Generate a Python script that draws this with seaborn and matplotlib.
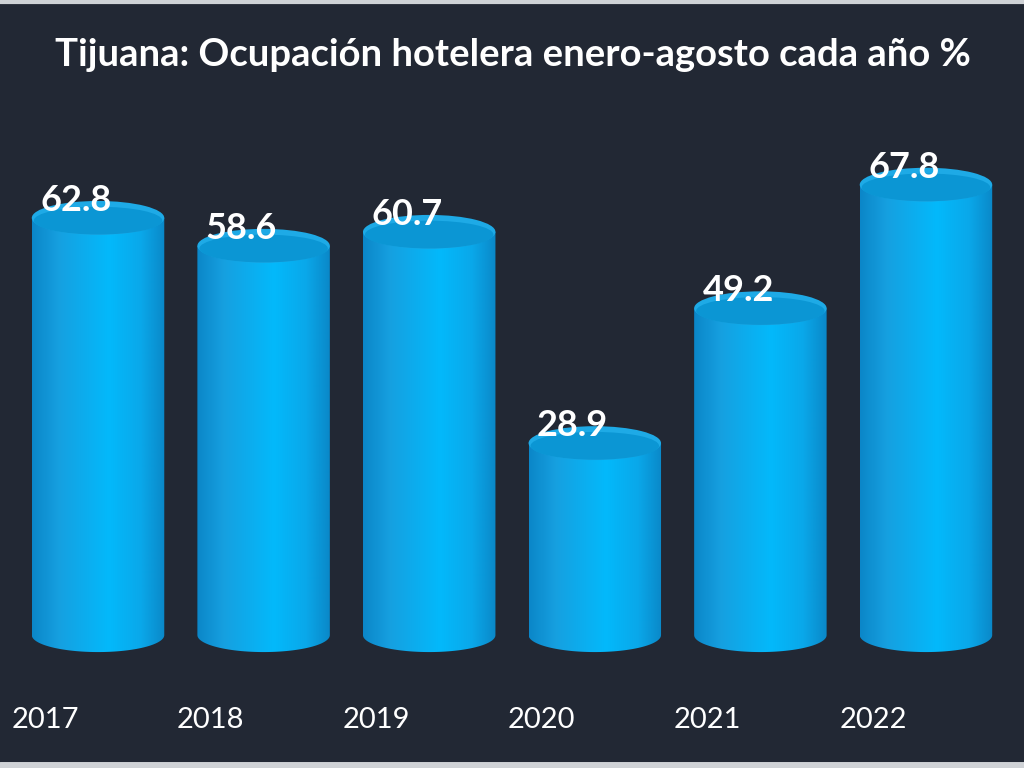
import numpy as np
import pandas as pd
import seaborn as sns
import matplotlib.pyplot as plt
from matplotlib.colors import LinearSegmentedColormap
from matplotlib.patches import Ellipse, PathPatch
from matplotlib.path import Path
from matplotlib.lines import Line2D

years = ['2017', '2018', '2019', '2020', '2021', '2022']
ocupacion = [62.8, 58.6, 60.7, 28.9, 49.2, 67.8]
titulo = 'Tijuana: Ocupación hotelera enero-agosto cada año %'

bg = '#222834'
df = pd.DataFrame({'year': years, 'ocupacion': ocupacion})

sns.set_theme(style='white')
plt.rcParams['font.family'] = ['Lato', 'DejaVu Sans']

fig = plt.figure(figsize=(10.24, 7.68), dpi=100, facecolor=bg)
ax = fig.add_axes([0, 0, 1, 1])
sns.barplot(data=df, x='year', y='ocupacion', color='#0aa8ec', width=0.8, ax=ax)
ax.set_xlim(-0.592, 5.592)
ax.set_ylim(-20.0, 95.6)
ax.axis('off')

# cylinder shading, dark at the sides, bright a bit right of centre
cyl = LinearSegmentedColormap.from_list('cyl', [
    (0.0, '#0b86c8'), (0.2, '#16a0e0'), (0.58, '#03b9fb'),
    (0.82, '#0aa8ea'), (1.0, '#0a88c8')])
grad = np.linspace(0, 1, 256).reshape(1, -1)
eh = 5.1  # ellipse height in data units

for bar, val in zip(ax.patches, ocupacion):
    x0 = bar.get_x()
    w = bar.get_width()
    h = bar.get_height()
    cx = x0 + w / 2
    bar.set_visible(False)
    # body + bottom half ellipse as clip path
    t = np.linspace(np.pi, 2 * np.pi, 60)
    bx = cx + (w / 2) * np.cos(t)
    by = (eh / 2) * np.sin(t)
    verts = [(x0, h)] + list(zip(bx, by)) + [(x0 + w, h), (x0, h)]
    codes = [Path.MOVETO] + [Path.LINETO] * (len(verts) - 2) + [Path.CLOSEPOLY]
    clip = PathPatch(Path(verts, codes), facecolor='none', edgecolor='none')
    ax.add_patch(clip)
    im = ax.imshow(grad, cmap=cyl, aspect='auto', extent=(x0, x0 + w, -eh, h),
                   zorder=2, interpolation='bilinear')
    im.set_clip_path(clip)
    # top ellipse
    ax.add_patch(Ellipse((cx, h), w, eh, facecolor='#1eaae6', edgecolor='none', zorder=3))
    ax.add_patch(Ellipse((cx, h - eh * 0.08), w * 0.97, eh * 0.82,
                         facecolor='#0b96d4', edgecolor='none', zorder=3))
    ax.text(x0 + 0.05, h + 1.05, f'{val:.1f}', color='white', fontsize=26,
            fontweight='bold', ha='left', va='baseline', zorder=5)

for i, yr in enumerate(years):
    ax.text(i - 0.32, -12.8, yr, color='white', fontsize=21, ha='center',
            va='center')

fig.text(0.501, 0.928, titulo, color='white', fontsize=27.5, fontweight='bold',
         ha='center', va='center')

fig.add_artist(Line2D([0, 1], [0.998, 0.998], color='#cfd2d6', lw=3))
fig.add_artist(Line2D([0, 1], [0.004, 0.004], color='#cfd2d6', lw=5))

fig.savefig('out.png', dpi=100, facecolor=bg)
